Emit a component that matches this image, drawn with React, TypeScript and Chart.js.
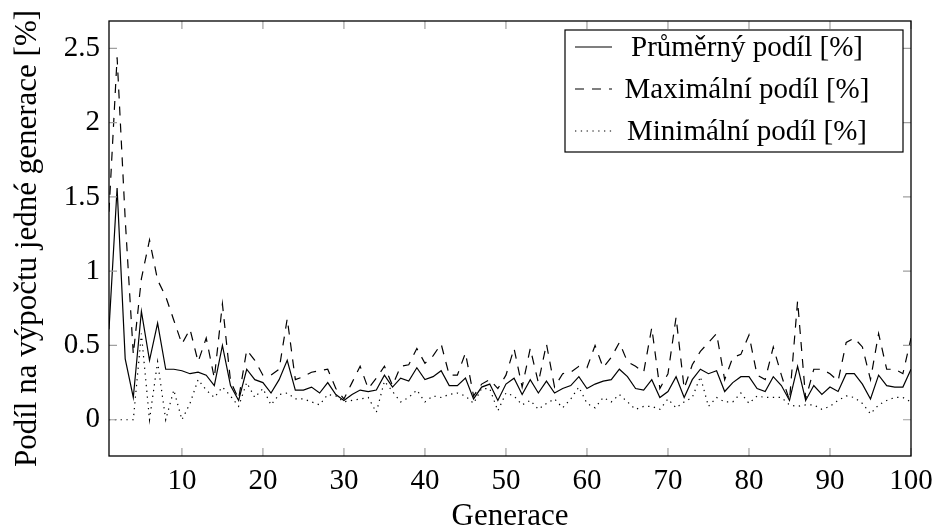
import React, { useEffect, useRef } from 'react';
import { Chart, registerables } from 'chart.js';

Chart.register(...registerables);

const generations = [
  1, 2, 3, 4, 5, 6, 7, 8, 9, 10, 11, 12, 13, 14, 15, 16, 17, 18, 19, 20,
  21, 22, 23, 24, 25, 26, 27, 28, 29, 30, 31, 32, 33, 34, 35, 36, 37, 38, 39, 40,
  41, 42, 43, 44, 45, 46, 47, 48, 49, 50, 51, 52, 53, 54, 55, 56, 57, 58, 59, 60,
  61, 62, 63, 64, 65, 66, 67, 68, 69, 70, 71, 72, 73, 74, 75, 76, 77, 78, 79, 80,
  81, 82, 83, 84, 85, 86, 87, 88, 89, 90, 91, 92, 93, 94, 95, 96, 97, 98, 99, 100,
];

const avgShare = [
  0.61, 1.56, 0.41, 0.15, 0.73, 0.40, 0.65, 0.34, 0.34, 0.33,
  0.31, 0.32, 0.30, 0.23, 0.50, 0.23, 0.13, 0.34, 0.27, 0.25,
  0.18, 0.27, 0.40, 0.20, 0.20, 0.22, 0.18, 0.25, 0.17, 0.13,
  0.17, 0.20, 0.19, 0.20, 0.30, 0.22, 0.28, 0.26, 0.35, 0.27,
  0.29, 0.33, 0.23, 0.23, 0.28, 0.14, 0.22, 0.24, 0.13, 0.24,
  0.28, 0.17, 0.27, 0.18, 0.26, 0.18, 0.21, 0.23, 0.29, 0.21,
  0.24, 0.26, 0.27, 0.34, 0.29, 0.21, 0.20, 0.27, 0.15, 0.19,
  0.29, 0.15, 0.27, 0.34, 0.31, 0.33, 0.19, 0.25, 0.29, 0.29,
  0.21, 0.19, 0.29, 0.23, 0.13, 0.36, 0.13, 0.23, 0.17, 0.22,
  0.19, 0.31, 0.31, 0.24, 0.14, 0.30, 0.23, 0.22, 0.22, 0.34,
];

const maxShare = [
  1.40, 2.44, 1.35, 0.44, 0.95, 1.21, 0.94, 0.83, 0.67, 0.51,
  0.61, 0.39, 0.55, 0.28, 0.78, 0.26, 0.14, 0.47, 0.40, 0.30,
  0.30, 0.34, 0.68, 0.27, 0.29, 0.32, 0.33, 0.34, 0.21, 0.14,
  0.25, 0.36, 0.21, 0.28, 0.36, 0.23, 0.36, 0.37, 0.48, 0.38,
  0.43, 0.51, 0.30, 0.30, 0.45, 0.16, 0.24, 0.27, 0.21, 0.30,
  0.48, 0.22, 0.48, 0.25, 0.51, 0.22, 0.31, 0.32, 0.36, 0.35,
  0.50, 0.35, 0.42, 0.52, 0.39, 0.36, 0.32, 0.62, 0.21, 0.31,
  0.69, 0.21, 0.37, 0.46, 0.52, 0.58, 0.27, 0.42, 0.44, 0.57,
  0.30, 0.27, 0.49, 0.30, 0.13, 0.80, 0.14, 0.34, 0.34, 0.31,
  0.26, 0.52, 0.55, 0.49, 0.27, 0.58, 0.34, 0.34, 0.31, 0.55,
];

const minShare = [
  0.00, 0.00, 0.00, 0.00, 0.58, 0.00, 0.39, 0.00, 0.20, 0.00,
  0.11, 0.27, 0.20, 0.15, 0.22, 0.16, 0.09, 0.25, 0.15, 0.21,
  0.10, 0.17, 0.18, 0.14, 0.14, 0.12, 0.10, 0.17, 0.16, 0.12,
  0.13, 0.14, 0.15, 0.05, 0.26, 0.19, 0.12, 0.15, 0.20, 0.12,
  0.16, 0.15, 0.17, 0.18, 0.16, 0.11, 0.21, 0.21, 0.06, 0.18,
  0.16, 0.10, 0.13, 0.07, 0.11, 0.14, 0.08, 0.14, 0.22, 0.11,
  0.08, 0.15, 0.12, 0.17, 0.12, 0.07, 0.09, 0.09, 0.07, 0.14,
  0.08, 0.12, 0.15, 0.29, 0.09, 0.15, 0.12, 0.12, 0.18, 0.11,
  0.16, 0.15, 0.15, 0.15, 0.10, 0.09, 0.10, 0.10, 0.07, 0.09,
  0.13, 0.16, 0.15, 0.11, 0.04, 0.10, 0.13, 0.15, 0.15, 0.12,
];

const xTickValues = [10, 20, 30, 40, 50, 60, 70, 80, 90, 100];
const yTickValues = [0, 0.5, 1, 1.5, 2, 2.5];
const seriesLabels = ['Průměrný podíl [%]', 'Maximální podíl [%]', 'Minimální podíl [%]'];
const xTitle = 'Generace';
const yTitle = 'Podíl na výpočtu jedné generace [%]';

const FONT = "'Liberation Serif', 'Times New Roman', serif";
const FONT_SIZE = 29;
const TITLE_SIZE = 31;

const framePlugin = {
  id: 'texFrame',
  afterDatasetsDraw(chart: any) {
    const { ctx, chartArea: a, scales } = chart;
    ctx.save();
    ctx.strokeStyle = '#a0a0a0';
    ctx.lineWidth = 1.2;
    const L = 8;
    ctx.beginPath();
    for (const v of xTickValues) {
      const x = scales.x.getPixelForValue(v);
      ctx.moveTo(x, a.bottom);
      ctx.lineTo(x, a.bottom - L);
      ctx.moveTo(x, a.top);
      ctx.lineTo(x, a.top + L);
    }
    for (const v of yTickValues) {
      const y = scales.y.getPixelForValue(v);
      ctx.moveTo(a.left, y);
      ctx.lineTo(a.left + L, y);
      ctx.moveTo(a.right, y);
      ctx.lineTo(a.right - L, y);
    }
    ctx.stroke();
    ctx.strokeStyle = '#000';
    ctx.lineWidth = 1.3;
    ctx.strokeRect(a.left, a.top, a.right - a.left, a.bottom - a.top);
    ctx.restore();
  },
};

const legendPlugin = {
  id: 'texLegend',
  afterDraw(chart: any) {
    const { ctx, chartArea: a } = chart;
    const boxW = 338;
    const rowH = 42;
    const boxH = 122;
    const right = a.right - 8;
    const left = right - boxW;
    const top = a.top + 9;
    ctx.save();
    ctx.fillStyle = '#fff';
    ctx.fillRect(left, top, boxW, boxH);
    ctx.strokeStyle = '#000';
    ctx.lineWidth = 1.2;
    ctx.strokeRect(left, top, boxW, boxH);
    ctx.font = `${FONT_SIZE}px ${FONT}`;
    ctx.fillStyle = '#000';
    ctx.textAlign = 'center';
    ctx.textBaseline = 'middle';
    chart.data.datasets.forEach((ds: any, i: number) => {
      const cy = top + 17 + i * rowH;
      ctx.beginPath();
      ctx.setLineDash(ds.borderDash || []);
      ctx.lineWidth = ds.borderWidth;
      ctx.moveTo(left + 10, cy);
      ctx.lineTo(left + 47, cy);
      ctx.stroke();
      ctx.setLineDash([]);
      ctx.fillText(ds.label, left + 182, cy + 1);
    });
    ctx.restore();
  },
};

const zeroPadding = (s: any) => {
  s.paddingLeft = 0;
  s.paddingRight = 0;
  s.paddingTop = 0;
  s.paddingBottom = 0;
};

export default function App() {
  const ref = useRef<HTMLCanvasElement | null>(null);

  useEffect(() => {
    if (!ref.current) return;
    const mk = (arr: number[]) => generations.map((g, i) => ({ x: g, y: arr[i] }));
    const chart = new Chart(ref.current, {
      type: 'line',
      data: {
        datasets: [
          {
            label: seriesLabels[0],
            data: mk(avgShare),
            borderColor: '#000',
            borderWidth: 1.2,
            pointRadius: 0,
            tension: 0,
            borderDash: [],
          },
          {
            label: seriesLabels[1],
            data: mk(maxShare),
            borderColor: '#000',
            borderWidth: 1.2,
            pointRadius: 0,
            tension: 0,
            borderDash: [9, 8],
          },
          {
            label: seriesLabels[2],
            data: mk(minShare),
            borderColor: '#000',
            borderWidth: 1.2,
            pointRadius: 0,
            tension: 0,
            borderDash: [1.3, 4.5],
          },
        ],
      },
      options: {
        responsive: false,
        animation: false,
        devicePixelRatio: 1,
        layout: { padding: { top: 21, right: 25, left: 0, bottom: 0 } },
        plugins: {
          legend: { display: false },
          tooltip: { enabled: false },
        },
        scales: {
          x: {
            type: 'linear',
            min: 1,
            max: 100,
            grid: { display: false, drawTicks: false },
            border: { display: false },
            afterBuildTicks: (s: any) => {
              s.ticks = xTickValues.map((v) => ({ value: v }));
            },
            afterFit: (s: any) => {
              s.height = 73;
              zeroPadding(s);
            },
            ticks: {
              color: '#000',
              padding: 8,
              maxRotation: 0,
              autoSkip: false,
              font: { family: FONT, size: FONT_SIZE },
              callback: (v: any) => String(v),
            },
            title: {
              display: true,
              text: xTitle,
              color: '#000',
              padding: { top: 0, bottom: -6 },
              font: { family: FONT, size: TITLE_SIZE },
            },
          },
          y: {
            type: 'linear',
            min: -0.244,
            max: 2.684,
            grid: { display: false, drawTicks: false },
            border: { display: false },
            afterBuildTicks: (s: any) => {
              s.ticks = yTickValues.map((v) => ({ value: v }));
            },
            afterFit: (s: any) => {
              s.width = 109;
              zeroPadding(s);
            },
            ticks: {
              color: '#000',
              padding: 9,
              autoSkip: false,
              font: { family: FONT, size: FONT_SIZE },
              callback: (v: any) => String(v),
            },
            title: {
              display: true,
              text: yTitle,
              color: '#000',
              padding: { top: 9, bottom: 0 },
              font: { family: FONT, size: TITLE_SIZE },
            },
          },
        },
      },
      plugins: [framePlugin, legendPlugin],
    } as any);
    return () => chart.destroy();
  }, []);

  return (
    <div style={{ position: 'absolute', left: 0, top: 0, width: 936, height: 529 }}>
      <canvas ref={ref} width={936} height={529} style={{ display: 'block', width: 936, height: 529 }} />
    </div>
  );
}
